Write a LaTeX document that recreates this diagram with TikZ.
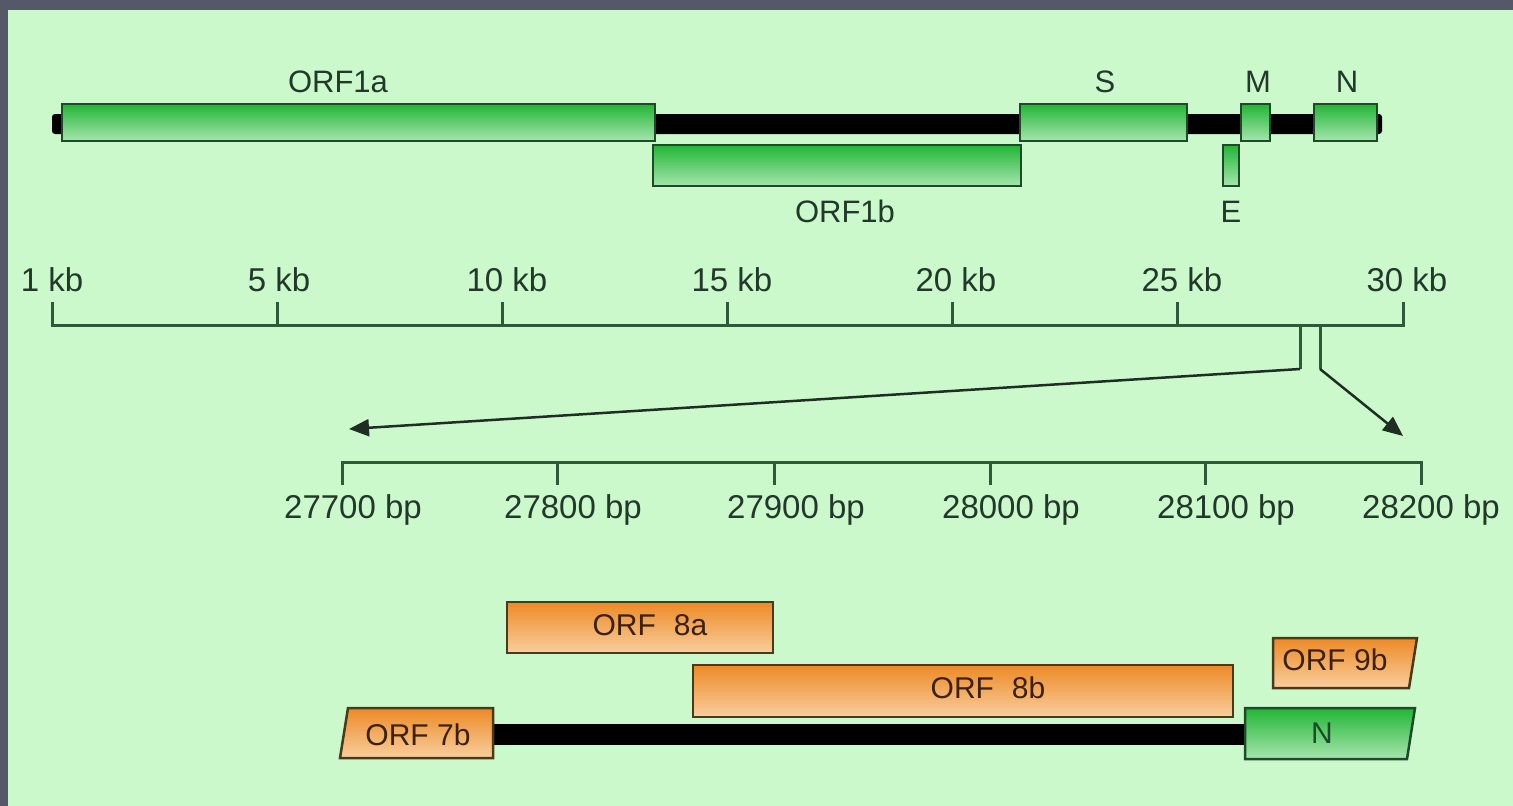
\documentclass[tikz,border=0pt]{standalone}
\usepackage{fontspec}
\setmainfont{Liberation Sans}
\usetikzlibrary{arrows.meta}
\definecolor{frame}{HTML}{545869}
\definecolor{bg}{HTML}{CCF9CC}
\definecolor{gtop}{HTML}{22B535}
\definecolor{gbot}{HTML}{A6E6AE}
\definecolor{gedge}{HTML}{1E4A2A}
\definecolor{otop}{HTML}{EC8A26}
\definecolor{obot}{HTML}{F9CE9E}
\definecolor{oedge}{HTML}{4A3A1C}
\definecolor{txt}{HTML}{22382A}
\definecolor{otxt}{HTML}{3C220E}
\definecolor{rule}{HTML}{2F5A3A}
\definecolor{arr}{HTML}{1E2E22}
\tikzset{
  genebox/.style={top color=gtop, bottom color=gbot, draw=gedge, line width=2.5pt},
  orfbox/.style={top color=otop, bottom color=obot, draw=oedge, line width=2.5pt},
  toplbl/.style={anchor=base, text=txt, inner sep=0pt, font=\fontsize{31}{31}\selectfont},
  rulelbl/.style={anchor=base, text=txt, inner sep=0pt, font=\fontsize{33}{33}\selectfont},
  orflbl/.style={anchor=base, text=otxt, inner sep=0pt, font=\fontsize{30}{30}\selectfont},
  rulerline/.style={draw=rule, line width=3pt},
  zoomline/.style={draw=arr, line width=2.5pt},
  zoomarrow/.style={draw=arr, line width=2.5pt, -{Triangle[length=20pt,width=17pt]}},
}
\begin{document}
\begin{tikzpicture}[x=1pt,y=-1pt]
\useasboundingbox (0,0) rectangle (1513,806);
\fill[frame] (0,0) rectangle (1513,806);
\fill[bg] (8,10) rectangle (1513,806);

% ---- genome overview ----
\fill[black, rounded corners=3pt] (52,114) rectangle (1382,134);
\path[genebox] (62,104) rectangle (655,141);
\path[genebox] (1020,104) rectangle (1187,141);
\path[genebox] (1241,104) rectangle (1270,141);
\path[genebox] (1314,104) rectangle (1377,141);
\path[genebox] (653,145) rectangle (1021,186);
\path[genebox] (1223,145) rectangle (1239,186);

\node[toplbl] (orf1a) at (338,92) {ORF1a};
\node[toplbl] (s) at (1105,92) {S};
\node[toplbl] (m) at (1258,92) {M};
\node[toplbl] (n) at (1347,92) {N};
\node[toplbl] (orf1b) at (845,222) {ORF1b};
\node[toplbl] (e) at (1231,222) {E};

% ---- kb ruler ----
\draw[rulerline, line cap=butt] (52,302) -- (52,325) -- (1403,325) -- (1403,302);
\foreach \x in {277,502,727,952,1177} \draw[rulerline] (\x,302) -- (\x,325);
\node[rulelbl] (k1) at (52,291) {1 kb};
\node[rulelbl] (k5) at (279,291) {5 kb};
\node[rulelbl] (k10) at (507,291) {10 kb};
\node[rulelbl] (k15) at (732,291) {15 kb};
\node[rulelbl] (k20) at (956,291) {20 kb};
\node[rulelbl] (k25) at (1182,291) {25 kb};
\node[rulelbl] (k30) at (1407,291) {30 kb};

% ---- zoom connectors ----
\coordinate (za) at (1300,325);
\coordinate (zb) at (1320,325);
\coordinate (za2) at (1300,369);
\coordinate (zb2) at (1320,369);
\coordinate (ltip) at (349,429);
\coordinate (rtip) at (1403,436);
\draw[rulerline] (za) -- (za2);
\draw[rulerline] (zb) -- (zb2);
\draw[zoomarrow] (za2) -- (ltip);
\draw[zoomarrow] (zb2) -- (rtip);

% ---- bp ruler ----
\draw[rulerline] (342,485) -- (342,462) -- (1421,462) -- (1421,485);
\foreach \x in {557,774,990,1205} \draw[rulerline] (\x,462) -- (\x,485);
\node[rulelbl] (b1) at (353,518) {27700 bp};
\node[rulelbl] (b2) at (573,518) {27800 bp};
\node[rulelbl] (b3) at (796,518) {27900 bp};
\node[rulelbl] (b4) at (1011,518) {28000 bp};
\node[rulelbl] (b5) at (1226,518) {28100 bp};
\node[rulelbl] (b6) at (1431,518) {28200 bp};

% ---- detail region ----
\fill[black] (490,724) rectangle (1248,745);
\path[orfbox] (348,708) -- (493,708) -- (493,758) -- (340,758) -- cycle;
\path[orfbox] (507,602) rectangle (773,653);
\path[orfbox] (693,665) rectangle (1233,717);
\path[orfbox] (1273,638) -- (1417,638) -- (1409,688) -- (1273,688) -- cycle;
\path[genebox] (1245,708) -- (1415,708) -- (1407,759) -- (1245,759) -- cycle;

\node[orflbl] (o7b) at (418,745) {ORF 7b};
\node[orflbl] (o8a) at (650,635) {ORF\hspace{0.6em}8a};
\node[orflbl] (o8b) at (988,698) {ORF\hspace{0.6em}8b};
\node[orflbl] (o9b) at (1335,670) {ORF 9b};
\node[orflbl, text=gedge] (nb) at (1322,743) {N};
\end{tikzpicture}
\end{document}
